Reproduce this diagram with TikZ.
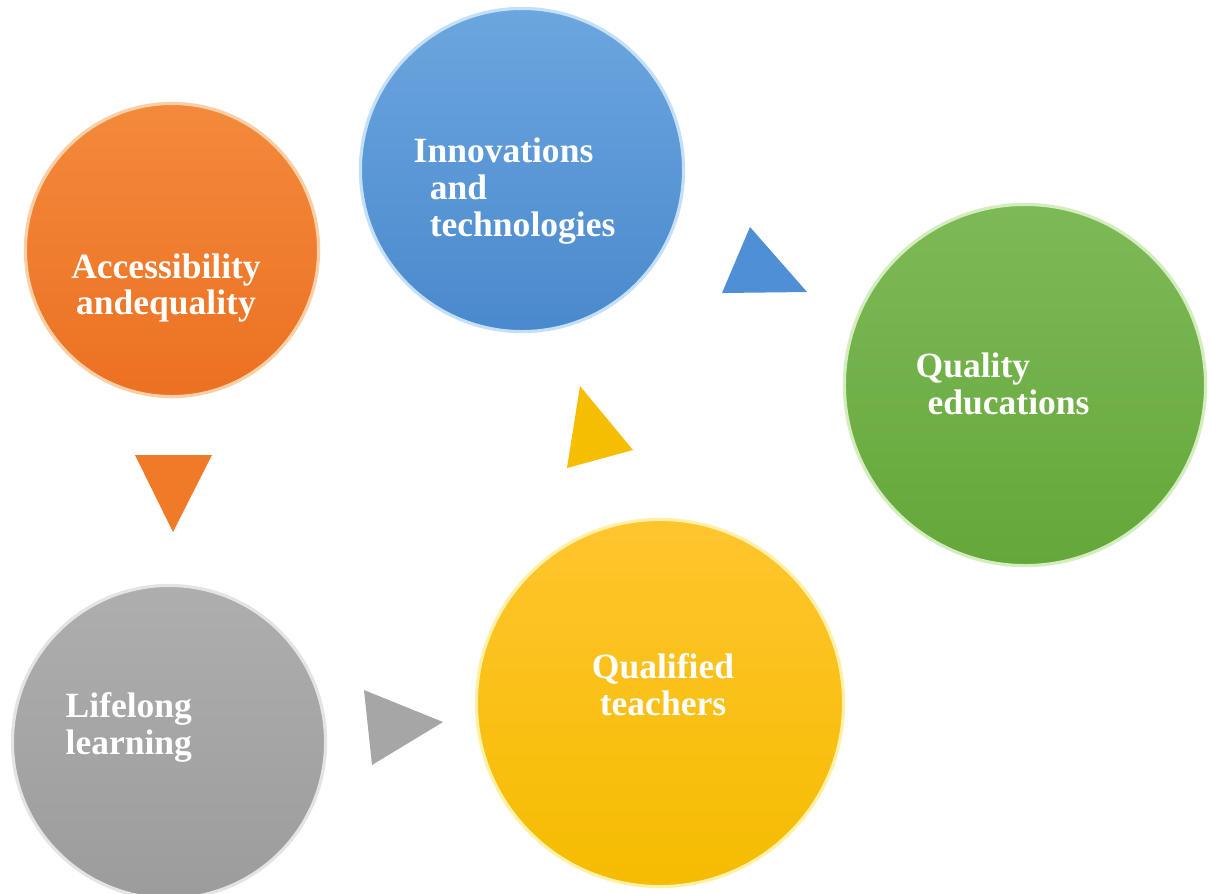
\documentclass[tikz,border=0pt]{standalone}
\usepackage{fontspec}
\setmainfont{Liberation Serif}
\definecolor{orTop}{HTML}{F4893C}
\definecolor{orBot}{HTML}{EC7122}
\definecolor{orRim}{HTML}{F9CFA6}
\definecolor{blTop}{HTML}{6CA6DF}
\definecolor{blBot}{HTML}{4A89CD}
\definecolor{blRim}{HTML}{C4E0F6}
\definecolor{grTop}{HTML}{7DBA57}
\definecolor{grBot}{HTML}{65A73A}
\definecolor{grRim}{HTML}{D3EDBE}
\definecolor{yeTop}{HTML}{FFC52E}
\definecolor{yeBot}{HTML}{F5BC00}
\definecolor{yeRim}{HTML}{FFF1A8}
\definecolor{gyTop}{HTML}{AEAEAE}
\definecolor{gyBot}{HTML}{9C9C9C}
\definecolor{gyRim}{HTML}{E4E4E4}
\definecolor{orTri}{HTML}{F07A28}
\definecolor{gyTri}{HTML}{A6A6A6}
\definecolor{yeTri}{HTML}{F5BE00}
\definecolor{blTri}{HTML}{4E8FD6}
\begin{document}
\begin{tikzpicture}[x=0.01cm,y=-0.01cm]
\tikzset{
  ball/.style={circle, inner sep=0pt, line width=0.9pt},
  lbl/.style={text=white, font=\fontsize{10.1}{10.5}\selectfont\bfseries, inner sep=0pt}
}
\useasboundingbox (0,0) rectangle (1211,893);
\fill[white] (0,0) rectangle (1211,893);
% circles
\node[ball, minimum size=2.93cm, top color=orTop, bottom color=orBot, draw=orRim] (acc) at (172,250) {};
\node[ball, minimum size=3.23cm, top color=blTop, bottom color=blBot, draw=blRim] (inn) at (522,170) {};
\node[ball, minimum size=3.61cm, top color=grTop, bottom color=grBot, draw=grRim] (qe) at (1025,385) {};
\node[ball, minimum size=3.67cm, top color=yeTop, bottom color=yeBot, draw=yeRim] (qt) at (660,703) {};
\node[ball, minimum size=3.13cm, top color=gyTop, bottom color=gyBot, draw=gyRim] (ll) at (169,742) {};
% labels
\node[lbl, align=center] (accT) at (166,288) {Accessibility\\andequality};
\node[lbl, align=left, anchor=west] (innT) at (413,191) {Innovations\\\hspace*{4.6pt}and\\\hspace*{4.6pt}technologies};
\node[lbl, align=left, anchor=west] (qeT) at (915,384) {Quality\\\hspace*{3.4pt}educations};
\node[lbl, align=center] (qtT) at (663,685) {Qualified\\teachers};
\node[lbl, align=left, anchor=west] (llT) at (65,727) {Lifelong\\learning};
% triangles
\fill[orTri] (135,455) -- (212,455) -- (173,532) -- cycle;
\fill[gyTri] (364,690) -- (443,722) -- (372,765) -- cycle;
\fill[yeTri] (580,386) -- (633,450) -- (567,468) -- cycle;
\fill[blTri] (750,227) -- (807,292) -- (722,293) -- cycle;
\end{tikzpicture}
\end{document}
